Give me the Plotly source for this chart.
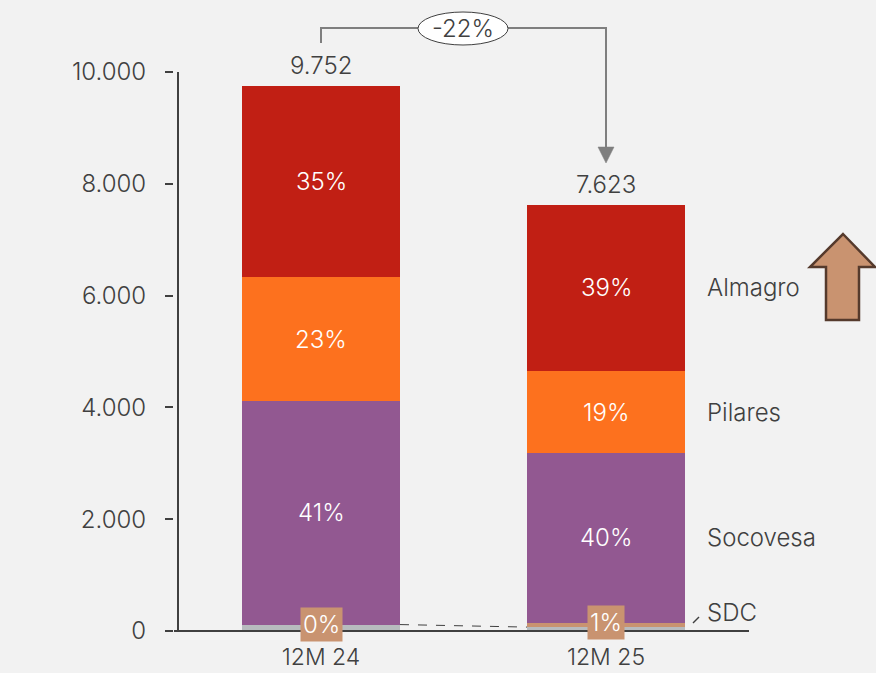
import plotly.graph_objects as go

# ---------------- data ----------------
categories = ["12M 24", "12M 25"]
series_names = ["Otros", "SDC", "Socovesa", "Pilares", "Almagro"]
otros = [115, 70]
sdc = [0, 80]
socovesa = [3999, 3034]
pilares = [2219, 1467]
almagro = [3419, 2972]
y_tickvals = [0, 2000, 4000, 6000, 8000, 10000]
y_ticktext = ["0", "2.000", "4.000", "6.000", "8.000", "10.000"]

colors = {
    "Otros": "#b7bbbe",
    "SDC": "#c99370",
    "Socovesa": "#925891",
    "Pilares": "#fd711e",
    "Almagro": "#c11f14",
}
series = [otros, sdc, socovesa, pilares, almagro]
totals = [sum(s[i] for s in series) for i in range(len(categories))]

TXT = "#404040"
FONT = "Inter"
FS = 24
FW = 300

# pixel <-> data helpers (layout geometry only)
X0, XU = 321.0, 285.0        # pixel of category 0, pixels per category
Y0, YU = 631.0, 0.0559       # pixel of y=0, pixels per unit
W, H = 876, 673
ML, MB = 174, 38


def dx(px):
    return (px - X0) / XU


def dy(py):
    return (Y0 - py) / YU


def f(color=TXT, size=FS):
    return dict(family=FONT, size=size, color=color, weight=FW)


bar_w = 158 / XU
xs = list(range(len(categories)))

fig = go.Figure()
for name, vals in zip(series_names, series):
    fig.add_trace(go.Bar(
        x=xs, y=vals, name=name, width=bar_w,
        marker=dict(color=colors[name], line=dict(width=0)),
        hoverinfo="skip", showlegend=False,
    ))

annotations = []
shapes = []

# segment percentage labels
for i in xs:
    base = otros[i] + sdc[i]
    for name, vals in [("Socovesa", socovesa), ("Pilares", pilares), ("Almagro", almagro)]:
        mid = base + vals[i] / 2
        pct = round(vals[i] / totals[i] * 100)
        annotations.append(dict(x=i, y=mid, text=f"{pct}%", showarrow=False,
                                font=f("white"), xanchor="center", yanchor="middle"))
        base += vals[i]
    # SDC pct box
    pct = round(sdc[i] / totals[i] * 100)
    annotations.append(dict(x=i, y=otros[i] + sdc[i], text=f"{pct}%", showarrow=False,
                            font=f("white"), bgcolor=colors["SDC"], borderpad=2,
                            xanchor="center", yanchor="middle"))
    # totals
    annotations.append(dict(x=i, y=totals[i], text=f"{totals[i]:,}".replace(",", "."),
                            showarrow=False, yshift=20, font=f(),
                            xanchor="center", yanchor="middle"))

# series labels on right (aligned to last bar segments)
last = len(categories) - 1
base = otros[last] + sdc[last]
for name, vals in [("Socovesa", socovesa), ("Pilares", pilares), ("Almagro", almagro)]:
    mid = base + vals[last] / 2
    annotations.append(dict(x=dx(705), y=mid, text=name, showarrow=False, font=f(),
                            xanchor="left", yanchor="middle"))
    base += vals[last]
annotations.append(dict(x=dx(705), y=dy(612), text="SDC", showarrow=False, font=f(),
                        xanchor="left", yanchor="middle"))
shapes.append(dict(type="line", xref="x", yref="y", x0=dx(693), y0=dy(623), x1=dx(699), y1=dy(617),
                   line=dict(color=TXT, width=1.5)))

# dashed connector between Otros tops
shapes.append(dict(type="line", xref="x", yref="y", x0=0 + bar_w / 2, y0=otros[0],
                   x1=1 - bar_w / 2, y1=otros[1], line=dict(color=TXT, width=1, dash="dash")))

# axes lines
shapes.append(dict(type="line", xref="x", yref="y", x0=dx(178), y0=0, x1=dx(178), y1=10000,
                   line=dict(color=TXT, width=2)))
shapes.append(dict(type="line", xref="x", yref="y", x0=dx(170), y0=0, x1=dx(749), y1=0,
                   line=dict(color=TXT, width=2)))

# change bracket
shapes.append(dict(type="path", xref="x", yref="y",
                   path=f"M {0} {dy(43)} L {0} {dy(28)} L {1} {dy(28)} L {1} {dy(149)}",
                   line=dict(color="#7f7f7f", width=2)))
shapes.append(dict(type="path", xref="x", yref="y",
                   path=f"M {dx(598)} {dy(147)} L {dx(614)} {dy(147)} L {1} {dy(163)} Z",
                   fillcolor="#7f7f7f", line=dict(color="#7f7f7f", width=0.5)))
shapes.append(dict(type="circle", xref="x", yref="y", x0=dx(418), x1=dx(508), y0=dy(45), y1=dy(12),
                   fillcolor="white", line=dict(color=TXT, width=1)))
chg = round((totals[1] / totals[0] - 1) * 100)
annotations.append(dict(x=dx(463), y=dy(28.5), text=f"{chg}%", showarrow=False, font=f(),
                        xanchor="center", yanchor="middle"))

# big up arrow
pts = [(843, 234), (875, 267), (859, 267), (859, 320), (826, 320), (826, 267), (810, 267)]
path = "M " + " L ".join(f"{dx(a)} {dy(b)}" for a, b in pts) + " Z"
shapes.append(dict(type="path", xref="x", yref="y", path=path,
                   fillcolor="#c99370", line=dict(color="#553a2c", width=2.5)))

# y-axis title
annotations.append(dict(x=dx(38), y=dy(351), text="Ing. Totales (MUF)", showarrow=False,
                        textangle=-90, font=f(), xanchor="center", yanchor="middle"))

fig.update_layout(
    width=W, height=H,
    margin=dict(l=ML, r=0, t=0, b=MB, pad=0, autoexpand=False),
    paper_bgcolor="#f2f2f2", plot_bgcolor="#f2f2f2",
    barmode="stack", bargap=0,
    xaxis=dict(range=[dx(ML), dx(W)], tickvals=xs, ticktext=categories,
               showgrid=False, zeroline=False, showline=False, automargin=False,
               ticks="outside", ticklen=1, tickcolor="rgba(0,0,0,0)",
               tickfont=f(size=23)),
    yaxis=dict(range=[dy(H - MB), dy(0)], tickvals=y_tickvals, ticktext=y_ticktext,
               showgrid=False, zeroline=False, showline=False, automargin=False,
               ticks="outside", ticklen=8, tickwidth=2, tickcolor=TXT,
               ticklabelstandoff=14, tickfont=f()),
    annotations=annotations, shapes=shapes,
)

fig.write_html("out.html")
